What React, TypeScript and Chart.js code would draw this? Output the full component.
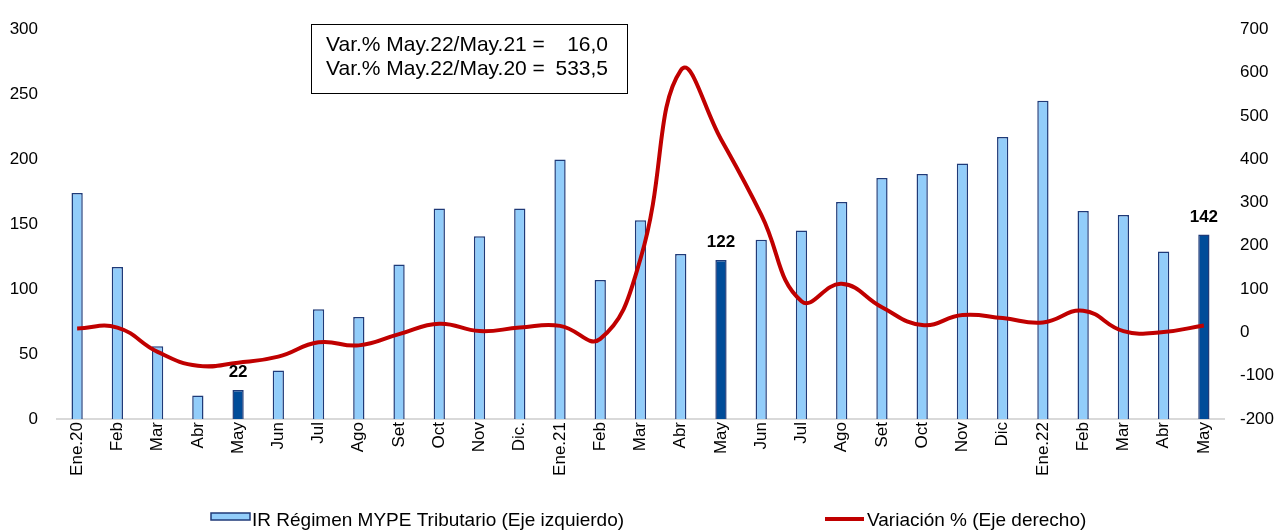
import React, { useEffect, useRef } from 'react';
import { Chart, registerables } from 'chart.js';

Chart.register(...registerables);

const categories = ['Ene.20', 'Feb', 'Mar', 'Abr', 'May', 'Jun', 'Jul', 'Ago', 'Set', 'Oct', 'Nov', 'Dic.',
  'Ene.21', 'Feb', 'Mar', 'Abr', 'May', 'Jun', 'Jul', 'Ago', 'Set', 'Oct', 'Nov', 'Dic',
  'Ene.22', 'Feb', 'Mar', 'Abr', 'May'];

const irMype = [174, 117, 56, 18, 22.4, 37.4, 84.5, 78.5, 119, 162, 140.6, 162,
  199.7, 107, 153, 127, 122.4, 138, 145, 167, 185.5, 188.5, 196.7, 217,
  245, 160, 157, 129, 142];

const variacion = [9, 11, -45, -77, -70, -56, -23, -30, -4, 20, 3, 11,
  15, -15, 170, 605, 446, 272, 72, 112, 58, 17, 40, 33,
  23, 50, 3, 1, 16];

const highlightIdx = [4, 16, 28];

const leftTicks = [0, 50, 100, 150, 200, 250, 300];
const rightTicks = [-200, -100, 0, 100, 200, 300, 400, 500, 600, 700];

const boxLines = [
  ['Var.% May.22/May.21 =', '16,0'],
  ['Var.% May.22/May.20 =', '533,5'],
];

const legendLabels = ['IR Régimen MYPE Tributario (Eje izquierdo)', 'Variación % (Eje derecho)'];

const FONT = "'Liberation Sans', Arial, sans-serif";
const LIGHT = '#92CDFA';
const DARK = '#004C99';
const NAVY = '#1F3A78';
const RED = '#C00000';

const overlay = {
  id: 'overlay',
  afterDraw(chart: any) {
    const ctx = chart.ctx;
    const meta = chart.getDatasetMeta(1);
    ctx.save();
    // data labels
    ctx.font = `bold 17px ${FONT}`;
    ctx.fillStyle = '#000';
    ctx.textAlign = 'center';
    ctx.textBaseline = 'bottom';
    highlightIdx.forEach((i) => {
      const el = meta.data[i];
      ctx.fillText(String(Math.round(irMype[i])), el.x, el.y - 9);
    });

    // text box
    ctx.strokeStyle = '#000';
    ctx.lineWidth = 1;
    ctx.strokeRect(311.5, 24.5, 316, 69);
    ctx.font = `21px ${FONT}`;
    ctx.textBaseline = 'alphabetic';
    boxLines.forEach((ln, k) => {
      const y = 51 + k * 24;
      ctx.textAlign = 'left';
      ctx.fillText(ln[0], 326, y);
      ctx.textAlign = 'right';
      ctx.fillText(ln[1], 608, y);
    });

    // legend
    ctx.font = `19px ${FONT}`;
    ctx.textAlign = 'left';
    ctx.textBaseline = 'alphabetic';
    ctx.fillStyle = LIGHT;
    ctx.fillRect(211, 513, 39, 7);
    ctx.strokeStyle = NAVY;
    ctx.lineWidth = 1.5;
    ctx.strokeRect(211, 513, 39, 7);
    ctx.fillStyle = '#000';
    ctx.fillText(legendLabels[0], 252, 526);

    ctx.strokeStyle = RED;
    ctx.lineWidth = 4;
    ctx.beginPath();
    ctx.moveTo(825, 519);
    ctx.lineTo(864, 519);
    ctx.stroke();
    ctx.fillStyle = '#000';
    ctx.fillText(legendLabels[1], 867, 526);
    ctx.restore();
  },
};

export default function App() {
  const ref = useRef<HTMLCanvasElement>(null);

  useEffect(() => {
    document.body.style.margin = '0';
    const chart = new Chart(ref.current as HTMLCanvasElement, {
      type: 'bar',
      data: {
        labels: categories,
        datasets: [
          {
            type: 'line',
            label: legendLabels[1],
            data: variacion,
            yAxisID: 'y1',
            borderColor: RED,
            borderWidth: 4,
            pointRadius: 0,
            tension: 0.45,
            fill: false,
            order: 0,
          } as any,
          {
            type: 'bar',
            label: legendLabels[0],
            data: irMype,
            yAxisID: 'y',
            backgroundColor: irMype.map((_, i) => (highlightIdx.includes(i) ? DARK : LIGHT)),
            borderColor: NAVY,
            borderWidth: 1.5,
            categoryPercentage: 1,
            barPercentage: 0.28,
            order: 1,
          },
        ],
      },
      options: {
        responsive: true,
        maintainAspectRatio: false,
        animation: false,
        layout: { padding: { top: 18, left: 0, right: 0, bottom: 0 } },
        plugins: {
          legend: { display: false },
          tooltip: { enabled: false },
        },
        scales: {
          x: {
            grid: { display: false, drawTicks: false },
            border: { display: true, color: '#D9D9D9', width: 2 },
            ticks: {
              autoSkip: false,
              minRotation: 90,
              maxRotation: 90,
              padding: 3,
              color: '#000',
              font: { family: FONT, size: 17 },
            },
            afterFit: (s: any) => { s.height = 112; },
          },
          y: {
            position: 'left',
            min: 0,
            max: 300,
            afterBuildTicks: (s: any) => { s.ticks = leftTicks.map((v) => ({ value: v })); },
            grid: { display: false, drawTicks: false },
            border: { display: false },
            ticks: { padding: 19, color: '#000', font: { family: FONT, size: 17 } },
            afterFit: (s: any) => { s.width = 57; },
          },
          y1: {
            position: 'right',
            min: -200,
            max: 700,
            afterBuildTicks: (s: any) => { s.ticks = rightTicks.map((v) => ({ value: v })); },
            grid: { display: false, drawTicks: false },
            border: { display: false },
            ticks: { padding: 16, color: '#000', font: { family: FONT, size: 17 } },
            afterFit: (s: any) => { s.width = 63; },
          },
        },
      },
      plugins: [overlay],
    });
    return () => chart.destroy();
  }, []);

  return (
    <div style={{ position: 'relative', width: '1287px', height: '531px' }}>
      <canvas ref={ref} />
    </div>
  );
}
